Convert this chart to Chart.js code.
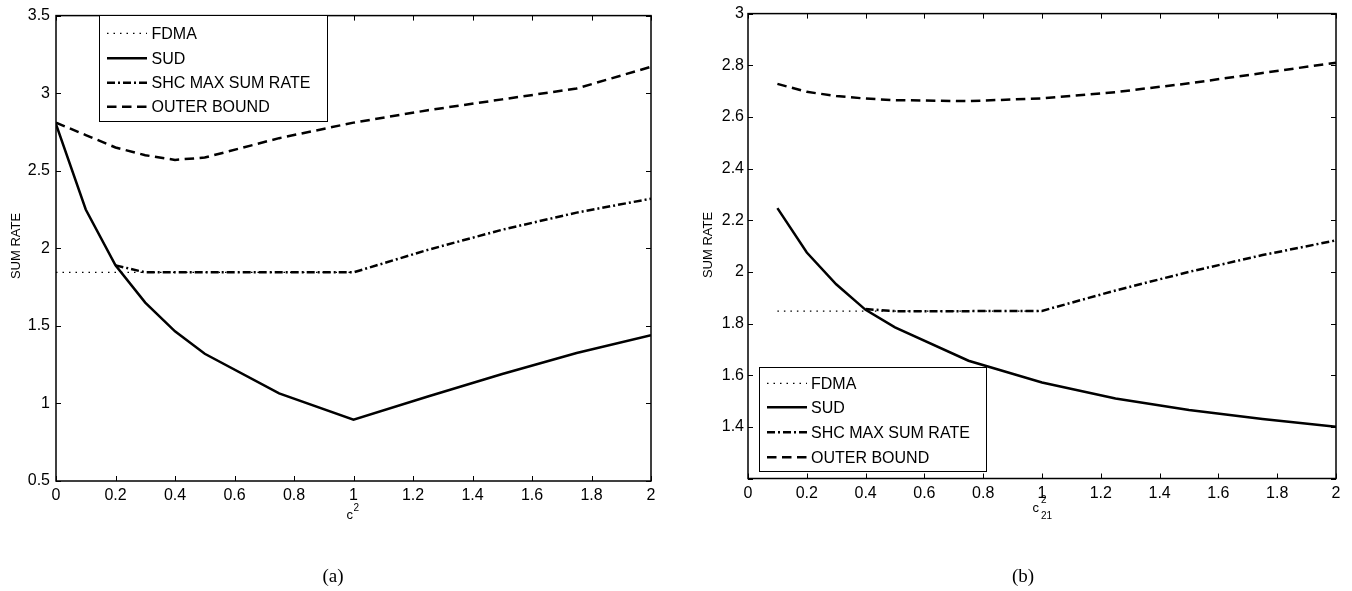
<!DOCTYPE html>
<html>
<head>
<meta charset="utf-8">
<script src="https://cdn.jsdelivr.net/npm/chart.js@4.4.1/dist/chart.umd.min.js"></script>
<style>
  html, body { margin: 0; padding: 0; background: #fff; }
  #wrap { position: relative; width: 1352px; height: 591px; }
  canvas { position: absolute; top: 0; }
</style>
</head>
<body>
<div id="wrap">
  <canvas id="chartA" width="676" height="591" style="left:0"></canvas>
  <canvas id="chartB" width="676" height="591" style="left:676px"></canvas>
</div>
<script>
// ---- data, panel (a) ----
const xA = [0, 0.1, 0.2, 0.3, 0.4, 0.5, 0.75, 1, 1.25, 1.5, 1.75, 2]
const sudA = [2.80, 2.25, 1.89, 1.65, 1.465, 1.32, 1.065, 0.895, 1.045, 1.19, 1.325, 1.44]
const outerA = [2.81, 2.73, 2.65, 2.60, 2.57, 2.585, 2.71, 2.81, 2.89, 2.96, 3.03, 3.17]
const shcXA = [0.2, 0.3, 0.4, 0.5, 0.75, 1, 1.25, 1.5, 1.75, 2]
const shcA = [1.89, 1.845, 1.845, 1.845, 1.845, 1.845, 1.99, 2.12, 2.23, 2.32]
const fdmaXA = [0, 1]
const fdmaA = [1.845, 1.845]

// ---- data, panel (b) ----
const xB = [0.1, 0.2, 0.3, 0.4, 0.5, 0.75, 1, 1.25, 1.5, 1.75, 2]
const sudB = [2.247, 2.075, 1.952, 1.853, 1.785, 1.656, 1.572, 1.51, 1.465, 1.43, 1.40]
const outerB = [2.728, 2.697, 2.681, 2.671, 2.665, 2.661, 2.672, 2.696, 2.73, 2.77, 2.81]
const shcXB = [0.4, 0.5, 0.75, 1, 1.25, 1.5, 1.75, 2]
const shcB = [1.856, 1.848, 1.848, 1.849, 1.928, 2.0, 2.065, 2.122]
const fdmaXB = [0.1, 1]
const fdmaB = [1.848, 1.848]

const seriesNames = ['FDMA', 'SUD', 'SHC MAX SUM RATE', 'OUTER BOUND']

const SANS = '"Liberation Sans", Arial, Helvetica, sans-serif'
const SERIF = '"Liberation Serif", "Times New Roman", serif'

const pts = (xs, ys) => xs.map((x, i) => ({x: x, y: ys[i]}))

const lineStyles = [
    {borderWidth: 1.2, borderDash: [1.5, 5]},
    {borderWidth: 2.5, borderDash: []},
    {borderWidth: 2.5, borderDash: [8, 3, 2, 3]},
    {borderWidth: 2.5, borderDash: [9.5, 5.5]}
]

function makeDatasets(groups) {
    return groups.map((g, i) => ({
        label: seriesNames[i],
        data: pts(g[0], g[1]),
        borderColor: '#000',
        borderWidth: lineStyles[i].borderWidth,
        borderDash: lineStyles[i].borderDash,
        pointRadius: 0,
        fill: false,
        tension: 0
    }))
}

// box frame with inward ticks on all four sides, MATLAB style
const frame = {
    id: 'frame',
    afterDatasetsDraw(chart) {
        const {ctx, chartArea: a, scales} = chart
        const x = scales.x, y = scales.y
        ctx.save()
        ctx.strokeStyle = '#000'
        ctx.lineWidth = 1
        ctx.beginPath()
        x.ticks.forEach(t => {
            const px = Math.round(x.getPixelForValue(t.value)) + 0.5
            ctx.moveTo(px, a.bottom); ctx.lineTo(px, a.bottom - 5)
            ctx.moveTo(px, a.top); ctx.lineTo(px, a.top + 5)
        })
        y.ticks.forEach(t => {
            const py = Math.round(y.getPixelForValue(t.value)) + 0.5
            ctx.moveTo(a.left, py); ctx.lineTo(a.left + 5, py)
            ctx.moveTo(a.right, py); ctx.lineTo(a.right - 5, py)
        })
        ctx.stroke()
        ctx.lineWidth = 1.5
        ctx.strokeRect(a.left, a.top, a.right - a.left, a.bottom - a.top)
        ctx.restore()
    }
}

// legend box + axis titles + caption
const annot = {
    id: 'annot',
    afterDraw(chart, args, o) {
        const ctx = chart.ctx
        ctx.save()
        // legend
        const b = o.box
        ctx.fillStyle = '#fff'
        ctx.fillRect(b[0], b[1], b[2] - b[0], b[3] - b[1])
        ctx.strokeStyle = '#000'
        ctx.lineWidth = 1
        ctx.strokeRect(b[0] + 0.5, b[1] + 0.5, b[2] - b[0], b[3] - b[1])
        ctx.font = '16px ' + SANS
        ctx.fillStyle = '#000'
        ctx.textBaseline = 'middle'
        ctx.textAlign = 'left'
        chart.data.datasets.forEach((ds, i) => {
            const ry = o.rows[i]
            ctx.beginPath()
            ctx.lineWidth = ds.borderWidth
            ctx.setLineDash(ds.borderDash)
            ctx.moveTo(o.sample[0], ry)
            ctx.lineTo(o.sample[1], ry)
            ctx.stroke()
            ctx.setLineDash([])
            ctx.fillText(ds.label, o.textX, ry + 1)
        })

        // y title
        ctx.save()
        ctx.translate(o.yTitle[0], o.yTitle[1])
        ctx.rotate(-Math.PI / 2)
        ctx.font = '13px ' + SANS
        ctx.textAlign = 'center'
        ctx.textBaseline = 'middle'
        ctx.fillText('SUM RATE', 0, 0)
        ctx.restore()

        // x title
        ctx.textBaseline = 'alphabetic'
        ctx.textAlign = 'left'
        ctx.font = '13px ' + SANS
        ctx.fillText('c', o.xTitle[0], o.xTitle[1])
        ctx.font = '10px ' + SANS
        ctx.fillText('2', o.sup[0], o.sup[1])
        if (o.sub) ctx.fillText('21', o.sub[0], o.sub[1])

        // caption
        ctx.font = '19px ' + SERIF
        ctx.textAlign = 'center'
        ctx.fillText(o.caption, o.capPos[0], o.capPos[1])
        ctx.restore()
    }
}

function makeChart(id, datasets, s) {
    const ctl = document.getElementById(id)
    return new Chart(ctl, {
        type: 'line',
        data: {datasets: datasets},
        plugins: [frame, annot],
        options: {
            responsive: false,
            animation: false,
            events: [],
            layout: {padding: s.padding},
            plugins: {
                legend: {display: false},
                tooltip: {enabled: false},
                annot: s.annot
            },
            scales: {
                x: {
                    type: 'linear',
                    min: 0,
                    max: 2,
                    grid: {display: false, drawTicks: false},
                    border: {display: false},
                    ticks: {
                        stepSize: 0.2,
                        padding: 5,
                        color: '#000',
                        maxRotation: 0,
                        autoSkip: false,
                        font: {family: SANS, size: 16},
                        callback: v => String(+v.toFixed(2))
                    },
                    afterFit: sc => { sc.height = 30 }
                },
                y: {
                    type: 'linear',
                    min: s.ymin,
                    max: s.ymax,
                    grid: {display: false, drawTicks: false},
                    border: {display: false},
                    ticks: {
                        stepSize: s.ystep,
                        padding: s.ypad,
                        color: '#000',
                        autoSkip: false,
                        font: {family: SANS, size: 16},
                        callback: s.ycb
                    },
                    afterFit: sc => { sc.width = s.yw }
                }
            }
        }
    })
}

makeChart('chartA', makeDatasets([[fdmaXA, fdmaA], [xA, sudA], [shcXA, shcA], [xA, outerA]]), {
    padding: {left: 0, top: 11, right: 25, bottom: 80},
    yw: 56,
    ypad: 6,
    ymin: 0.5, ymax: 3.5, ystep: 0.5,
    ycb: v => String(+v.toFixed(2)),
    annot: {
        box: [99, 15, 327, 121],
        rows: [33.3, 58.3, 82.7, 106.7],
        sample: [107, 147],
        textX: 151.5,
        yTitle: [16.7, 246],
        xTitle: [346.5, 519],
        sup: [353.5, 511],
        caption: '(a)',
        capPos: [333, 582]
    }
})

makeChart('chartB', makeDatasets([[fdmaXB, fdmaB], [xB, sudB], [shcXB, shcB], [xB, outerB]]), {
    padding: {left: 0, top: 11.5, right: 16, bottom: 82.5},
    yw: 72,
    ypad: 4,
    ymin: 1.2, ymax: 3, ystep: 0.2,
    ycb: (v, i) => i === 0 ? '' : String(+v.toFixed(2)),
    annot: {
        box: [83, 367, 310, 471],
        rows: [383.3, 407.3, 432.3, 457.3],
        sample: [91, 131],
        textX: 135,
        yTitle: [32, 245],
        xTitle: [356.5, 511.5],
        sup: [365, 503],
        sub: [365, 519],
        caption: '(b)',
        capPos: [347, 582]
    }
})
</script>
</body>
</html>
